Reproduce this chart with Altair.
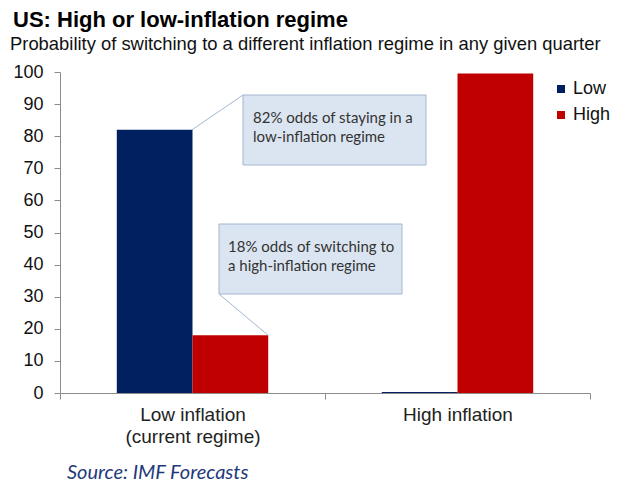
import altair as alt
import pandas as pd

# ---- data ----
CATEGORIES = ["Low inflation\n(current regime)", "High inflation"]
SERIES = ["Low", "High"]
LOW_VALUES = [82, 0.3]
HIGH_VALUES = [18, 99.5]
Y_TICKS = [0, 10, 20, 30, 40, 50, 60, 70, 80, 90, 100]

TITLE = "US: High or low-inflation regime"
SUBTITLE = "Probability of switching to a different inflation regime in any given quarter"
SOURCE = "Source: IMF Forecasts"
CALLOUT_1 = "82% odds of staying in a\nlow-inflation regime"
CALLOUT_2 = "18% odds of switching to\na high-inflation regime"

NAVY = "#002060"
RED = "#c00000"
BOX_FILL = "#dbe5f1"
BOX_STROKE = "#a3b6d0"
AXIS_GRAY = "#8c8c8c"
SANS = "Liberation Sans"
CAL = "Lato"
PLOT_W, PLOT_H = 530, 321

rows = []
for i, c in enumerate(CATEGORIES):
    rows.append({"category": c, "series": "Low", "value": LOW_VALUES[i]})
    rows.append({"category": c, "series": "High", "value": HIGH_VALUES[i]})
df = pd.DataFrame(rows)

one = pd.DataFrame({"k": [0]})


def y_px(v):
    # pixel position of a value on the 0-100 y scale (for annotation leader ends)
    return PLOT_H * (1 - v / 100)


Y_SCALE = alt.Scale(domain=[0, 100], nice=False)
Y_AXIS = alt.Axis(title=None, values=Y_TICKS, grid=False, labelOverlap=False,
                  labelFlush=False, labelFont=SANS, labelFontSize=18, labelColor="#111111",
                  labelPadding=11, tickSize=6, tickColor=AXIS_GRAY, domainColor=AXIS_GRAY)

bars = alt.Chart(df).mark_bar().encode(
    x=alt.X("category:N", sort=CATEGORIES,
            scale=alt.Scale(paddingInner=0, paddingOuter=0),
            axis=alt.Axis(title=None, labelAngle=0, labelExpr="split(datum.label, '\\n')",
                          labelFont=SANS, labelFontSize=19, labelColor="#222222",
                          labelLineHeight=22, labelPadding=6, labelBaseline="top",
                          tickBand="extent", tickSize=6, tickColor=AXIS_GRAY,
                          domainColor=AXIS_GRAY)),
    xOffset=alt.XOffset("series:N", sort=SERIES,
                        scale=alt.Scale(paddingInner=0, paddingOuter=0.75)),
    y=alt.Y("value:Q", scale=Y_SCALE, axis=Y_AXIS),
    color=alt.Color("series:N", sort=SERIES,
                    scale=alt.Scale(domain=SERIES, range=[NAVY, RED]),
                    legend=alt.Legend(title=None, orient="none", legendX=492, legendY=8,
                                      symbolType="square", symbolSize=64,
                                      symbolStrokeWidth=0, labelFont=SANS,
                                      labelFontSize=18, labelColor="#111111",
                                      labelOffset=3, rowPadding=8, padding=0)),
)

box1 = alt.Chart(one).mark_rect(fill=BOX_FILL, stroke=BOX_STROKE, strokeWidth=1).encode(
    x=alt.value(183), x2=alt.value(366), y=alt.value(23), y2=alt.value(93))
box2 = alt.Chart(one).mark_rect(fill=BOX_FILL, stroke=BOX_STROKE, strokeWidth=1).encode(
    x=alt.value(159), x2=alt.value(342), y=alt.value(152), y2=alt.value(222))

lead1 = alt.Chart(one).mark_rule(color=BOX_STROKE, strokeWidth=1).encode(
    x=alt.value(132), y=alt.value(y_px(LOW_VALUES[0])),
    x2=alt.value(183), y2=alt.value(23))
lead2 = alt.Chart(one).mark_rule(color=BOX_STROKE, strokeWidth=1).encode(
    x=alt.value(208), y=alt.value(y_px(HIGH_VALUES[0])),
    x2=alt.value(159), y2=alt.value(222))

txt1 = alt.Chart(pd.DataFrame({"t": [CALLOUT_1]})).mark_text(
    align="left", baseline="alphabetic", font=CAL, fontSize=15, color="#333333",
    lineBreak="\n", lineHeight=19).encode(text="t:N", x=alt.value(193), y=alt.value(51))
txt2 = alt.Chart(pd.DataFrame({"t": [CALLOUT_2]})).mark_text(
    align="left", baseline="alphabetic", font=CAL, fontSize=15, color="#333333",
    lineBreak="\n", lineHeight=19).encode(text="t:N", x=alt.value(168), y=alt.value(180))

title = alt.Chart(pd.DataFrame({"t": [TITLE]})).mark_text(
    align="left", baseline="alphabetic", font=SANS, fontSize=22, fontWeight="bold",
    color="#000000").encode(text="t:N", x=alt.value(-47), y=alt.value(-45))
subtitle = alt.Chart(pd.DataFrame({"t": [SUBTITLE]})).mark_text(
    align="left", baseline="alphabetic", font=SANS, fontSize=18.4,
    color="#111111").encode(text="t:N", x=alt.value(-50), y=alt.value(-22))
source = alt.Chart(pd.DataFrame({"t": [SOURCE]})).mark_text(
    align="left", baseline="alphabetic", font=CAL, fontSize=20, fontStyle="italic",
    color="#1f3a7a").encode(text="t:N", x=alt.value(7), y=alt.value(407))

chart = alt.layer(bars, box1, box2, lead1, lead2, txt1, txt2, title, subtitle, source).properties(
    width=PLOT_W, height=PLOT_H,
    autosize=alt.AutoSizeParams(type="none"),
    padding={"left": 60, "top": 72, "right": 28, "bottom": 91},
    background="white",
).configure_view(stroke=None)

chart.save("out.html", embed_options={"renderer": "svg", "actions": False})
